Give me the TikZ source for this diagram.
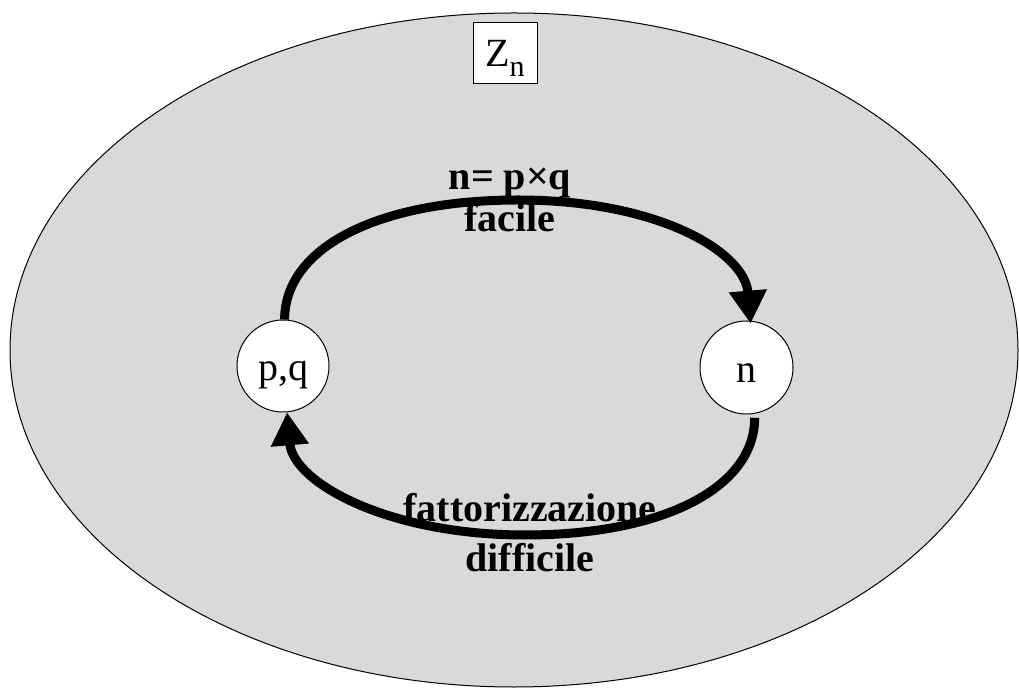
\documentclass[tikz,border=0pt]{standalone}
\usepackage{fontspec}
\setmainfont{Liberation Serif}
\usetikzlibrary{arrows.meta}
\definecolor{bggray}{RGB}{217,217,217}
\tikzset{
  disc/.style={circle, draw=black, line width=1pt, fill=white, minimum size=92pt, inner sep=0pt,
    text height=30pt, text depth=0pt, font=\fontsize{40}{48}\selectfont},
  bigarrow/.style={line width=9pt, -{Triangle[length=33pt,width=36pt]}},
  lbl/.style={anchor=base, inner sep=0pt, font=\fontsize{40}{48}\selectfont\bfseries}
}
\begin{document}
\begin{tikzpicture}[x=1pt,y=1pt]
\useasboundingbox (0,0) rectangle (1019,688);
% universe
\draw[fill=bggray, line width=1pt] (514,338) ellipse[x radius=504, y radius=337];
% Zn label box
\node[draw=black, line width=0.8pt, fill=white, minimum width=64pt, inner sep=0pt,
      text height=45pt, text depth=16pt, font=\fontsize{40}{48}\selectfont] (zn) at (505,635.5)
      {Z\raisebox{-10pt}{\fontsize{30}{30}\selectfont n}};
% nodes
\node[disc] (pq) at (283,322) {p,q};
\node[disc, minimum size=93pt] (n) at (746.5,320.5) {n};
% top arrow
\coordinate (top) at (518,488);
\draw[bigarrow] (pq.88) .. controls +(0,72) and +(-140,0) .. (top)
  .. controls +(140,0) and +(-6,72) .. ([yshift=-3pt]n.85);
% bottom arrow
\coordinate (bot) at (525,153);
\draw[bigarrow] ([yshift=-4pt]n.-80) .. controls +(0,-70) and +(138,0) .. (bot)
  .. controls +(-138,0) and +(6,-70) .. (pq.-85);
% labels
\node[lbl] (l1) at (510,498) {n= p×q};
\node[lbl] (l2) at (510,456) {facile};
\node[lbl] (l3) at (530,166) {fattorizzazione};
\node[lbl] (l4) at (530,117) {difficile};
\end{tikzpicture}
\end{document}
